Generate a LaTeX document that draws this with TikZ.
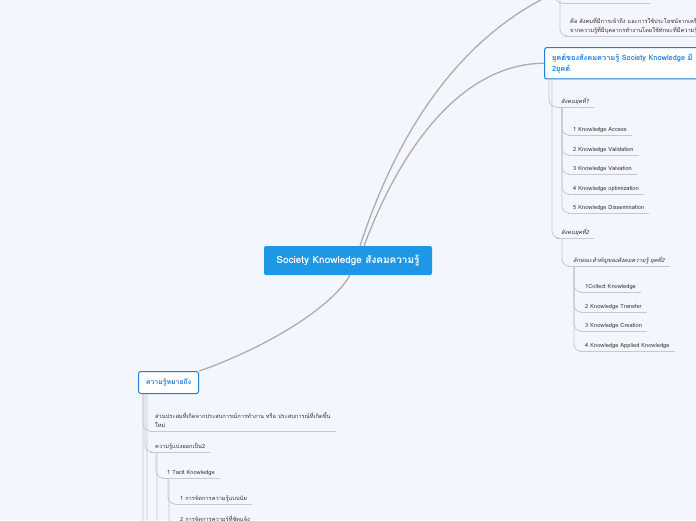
\documentclass[tikz,border=0pt]{standalone}
\usepackage{fontspec}
\setmainfont[Script=Thai]{Loma}
\usetikzlibrary{positioning}
\definecolor{paper}{HTML}{F3F6FD}
\definecolor{hubblue}{HTML}{1E98E6}
\definecolor{topicblue}{HTML}{1C7FDB}
\definecolor{inkgray}{HTML}{333333}
\definecolor{wiregray}{HTML}{C6C8CE}
\definecolor{stemgray}{HTML}{ADADAD}

\begin{document}
\begin{tikzpicture}[
  x=1pt,y=-1pt,
  hub/.style={fill=hubblue,rounded corners=2pt,text=white,font=\bfseries\fontsize{10}{12}\selectfont,minimum width=168pt,minimum height=29pt},
  topic/.style={draw=topicblue,fill=white,line width=1pt,rounded corners=2.5pt,text=topicblue,font=\bfseries\fontsize{7.4}{11}\selectfont,align=left,inner xsep=7.5pt,inner ysep=6pt},
  leaf/.style={anchor=south west,text=inkgray,font=\fontsize{5.7}{9}\selectfont,align=left,inner xsep=5pt,inner ysep=2.5pt,text depth=1pt,
    append after command={(\tikzlastnode.south west) edge[wire] (\tikzlastnode.south east)}},
  wire/.style={draw=wiregray,line width=.8pt},
  link/.style={draw=wiregray,line width=.8pt,rounded corners=7pt},
  stem/.style={draw=stemgray,line width=1.3pt}
]
  \useasboundingbox (0,0) rectangle (696,520);
  \clip (0,0) rectangle (696,520);
  \fill[paper] (0,0) rectangle (696,520);

  \node[hub] (society) at (348,260.5) {Society Knowledge สังคมความรู้};
  \node[topic,anchor=north west] (eras) at (544,47) {ยุคต์ของสังคมความรู้ Society Knowledge มี\\2ยุคต์};
  \node[topic,anchor=north west,minimum height=22pt,font=\bfseries\fontsize{6.9}{11}\selectfont] (meaning) at (138,371) {ความรู้หมายถึง};

  % off-page ends
  \coordinate (offhub) at (566,-12);
  \coordinate (offparent) at (557,-30);
  \coordinate (prevleaf) at (563,3);
  \coordinate (prevend) at (650,3);
  \coordinate (meaningmore) at (150,560);
  \coordinate (meaninglast) at (150,600);
  \coordinate (explicit) at (162,560);

  % right branch
  \node[leaf] (definition) at (565,36) {คือ สังคมที่มีการเข้าถึง และการใช้ประโยชน์จากเครือข่ายความรู้\\จากความรู้ที่มีบุคลากรทำงานโดยใช้ทักษะที่มีความรู้สูง};
  \node[leaf,font=\itshape\fontsize{5.7}{9}\selectfont] (era1) at (556,107) {สังคมยุคที่1};
  \node[leaf] (access) at (568,135) {1 Knowledge Access};
  \node[leaf] (validation) at (568,155) {2 Knowledge Validation};
  \node[leaf] (valvation) at (568,174) {3 Knowledge Valvation};
  \node[leaf] (optimization) at (568,194) {4 Knowledge optimization};
  \node[leaf] (dissemination) at (568,213) {5 Knowledge Dissemination};
  \node[leaf,font=\itshape\fontsize{5.7}{9}\selectfont] (era2) at (556,238) {สังคมยุคที่2};
  \node[leaf,font=\itshape\fontsize{5.7}{9}\selectfont] (traits) at (568,266) {ลักษณะสำคัญของสังคมความรู้ ยุคที่2};
  \node[leaf] (collect) at (580,292) {1Collect Knowledge};
  \node[leaf] (transfer) at (580,312) {2 Knowledge Transfer};
  \node[leaf] (creation) at (580,331) {3 Knowledge Creation};
  \node[leaf] (applied) at (580,351) {4 Knowledge Applied Knowledge};

  % left branch
  \node[leaf] (blend) at (150,431) {ส่วนประสมที่เกิดจากประสบการณ์การทำงาน หรือ ประสบการณ์ที่เกิดขึ้น\\ใหม่};
  \node[leaf] (split) at (150,452) {ความรู้แบ่งออกเป็น2};
  \node[leaf] (tacit) at (162,478) {1 Tacit Knowledge};
  \node[leaf] (tacitmgmt) at (175,504) {1 การจัดการความรู้แบบนัย};
  \node[leaf] (explicitmgmt) at (175,525) {2 การจัดการความรู้ที่ชัดแจ้ง};

  \draw[stem] ([xshift=12]society.north) .. controls (385,170) and (440,40) .. (offhub);
  \draw[stem] ([xshift=16]society.north) .. controls (400,150) and (460,64) .. (eras.west);
  \draw[stem] ([xshift=2]society.south) .. controls (330,310) and (260,350) .. (meaning.north east);

  \draw[link] ([xshift=-2]offparent) |- (prevleaf);
  \draw[wire] (prevleaf) -- (prevend);
  \draw[link] ([xshift=3]offparent) |- (definition.south west);

  \draw[link] ([xshift=5]eras.south west) |- (era1.south west);
  \draw[link] ([xshift=8]eras.south west) |- (era2.south west);
  \draw[link] ([xshift=6]era1.south west) |- (access.south west);
  \draw[link] ([xshift=6]era1.south west) |- (validation.south west);
  \draw[link] ([xshift=6]era1.south west) |- (valvation.south west);
  \draw[link] ([xshift=6]era1.south west) |- (optimization.south west);
  \draw[link] ([xshift=6]era1.south west) |- (dissemination.south west);
  \draw[link] ([xshift=6]era2.south west) |- (traits.south west);
  \draw[link] ([xshift=6]traits.south west) |- (collect.south west);
  \draw[link] ([xshift=6]traits.south west) |- (transfer.south west);
  \draw[link] ([xshift=6]traits.south west) |- (creation.south west);
  \draw[link] ([xshift=6]traits.south west) |- (applied.south west);

  \draw[link] ([xshift=5]meaning.south west) |- (blend.south west);
  \draw[link] ([xshift=7]meaning.south west) |- (split.south west);
  \draw[link] ([xshift=5]meaning.south west) |- (meaningmore);
  \draw[link] ([xshift=9]meaning.south west) |- (meaninglast);
  \draw[link] ([xshift=6]split.south west) |- (tacit.south west);
  \draw[link] ([xshift=7]split.south west) |- (explicit);
  \draw[link] ([xshift=6]tacit.south west) |- (tacitmgmt.south west);
  \draw[link] ([xshift=7]tacit.south west) |- (explicitmgmt.south west);
\end{tikzpicture}
\end{document}
